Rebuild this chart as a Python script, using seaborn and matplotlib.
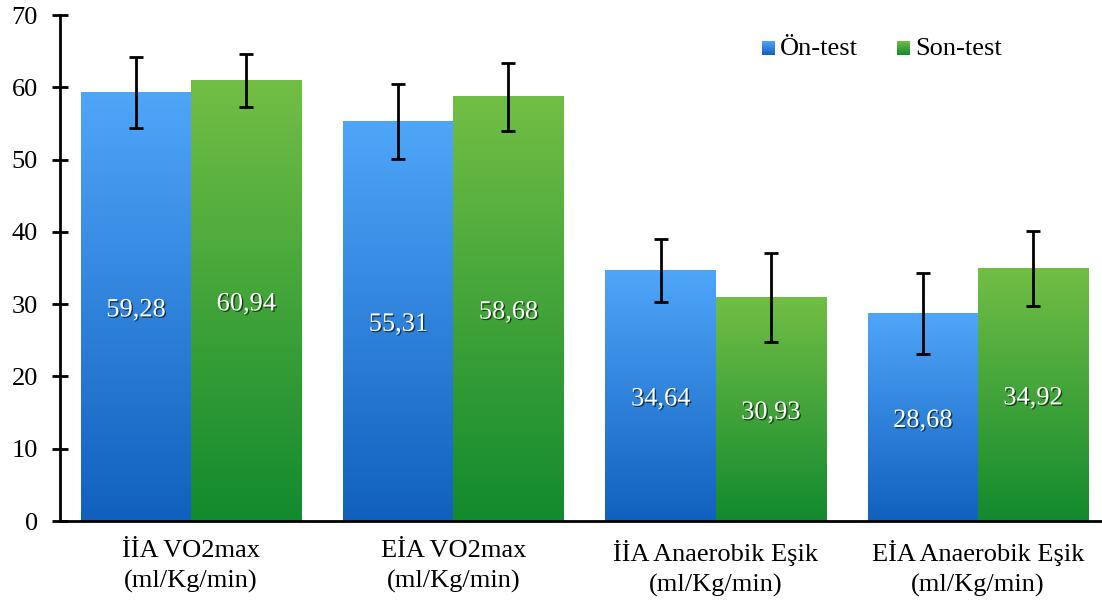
import matplotlib
matplotlib.use("Agg")
import matplotlib.pyplot as plt
import matplotlib.patheffects as pe
from matplotlib.colors import LinearSegmentedColormap
import numpy as np
import pandas as pd
import seaborn as sns

categories = ["İİA VO2max\n(ml/Kg/min)", "EİA VO2max\n(ml/Kg/min)",
              "İİA Anaerobik Eşik\n(ml/Kg/min)", "EİA Anaerobik Eşik\n(ml/Kg/min)"]
groups = ["Ön-test", "Son-test"]
on_test = [59.28, 55.31, 34.64, 28.68]
son_test = [60.94, 58.68, 30.93, 34.92]
on_sd = [4.9, 5.2, 4.4, 5.6]
son_sd = [3.7, 4.7, 6.1, 5.2]
value_labels_on = ["59,28", "55,31", "34,64", "28,68"]
value_labels_son = ["60,94", "58,68", "30,93", "34,92"]

df = pd.DataFrame({
    "cat": categories * 2,
    "val": on_test + son_test,
    "grp": [groups[0]] * 4 + [groups[1]] * 4,
})

sns.set_style("white")
plt.rcParams["font.family"] = ["Liberation Serif", "DejaVu Serif"]
FS = 19

fig = plt.figure(figsize=(11.02, 6.01), dpi=100)
ax = fig.add_axes([60 / 1102, 80 / 601, 1049 / 1102, 506 / 601])

sns.barplot(data=df, x="cat", y="val", hue="grp", errorbar=None,
            width=0.84, gap=0, legend=False, ax=ax,
            palette=["#3d8ee8", "#45a53a"])

cmaps = [
    LinearSegmentedColormap.from_list("b", ["#1160be", "#4fa6f9"]),
    LinearSegmentedColormap.from_list("g", ["#128a2e", "#72be45"]),
]
grad = np.linspace(0, 1, 256).reshape(-1, 1)

sds = [on_sd, son_sd]
labels = [value_labels_on, value_labels_son]
bar_containers = list(ax.containers)
for k, cont in enumerate(bar_containers):
    for i, bar in enumerate(cont):
        x0 = bar.get_x()
        w = bar.get_width()
        h = bar.get_height()
        bar.set_facecolor("none")
        bar.set_edgecolor("none")
        ax.imshow(grad, extent=[x0, x0 + w, 0, h], origin="lower",
                  aspect="auto", cmap=cmaps[k], zorder=1)
        ax.errorbar(x0 + w / 2, h, yerr=sds[k][i], color="black",
                    elinewidth=2, capsize=4.7, capthick=2, zorder=3)
        ax.text(x0 + w / 2, h / 2 - 0.5, labels[k][i], ha="center", va="center",
                color="white", fontsize=FS, zorder=4,
                path_effects=[pe.SimplePatchShadow(offset=(1, -1), shadow_rgbFace="black", alpha=0.6),
                              pe.Normal()])

# legend with gradient squares
def px2data(px, py):
    return (px - 60) / 262.25 - 0.5, (521 - py) / 7.229

for k, (sx, tx) in enumerate([(762, 780), (897, 915)]):
    xa, ya = px2data(sx, 55)
    xb, yb = px2data(sx + 13, 41)
    ax.imshow(grad, extent=[xa, xb, ya, yb], origin="lower",
              aspect="auto", cmap=cmaps[k], zorder=5)
    xt, yt = px2data(tx, 49)
    ax.text(xt, yt, groups[k], ha="left", va="center", fontsize=FS, color="black")

ax.set_xlim(-0.5, 3.5)
ax.set_ylim(0, 70)
ax.set_yticks(range(0, 71, 10))
ax.set_xlabel("")
ax.set_ylabel("")
ax.tick_params(axis="y", which="major", direction="inout", length=12, width=2,
               labelsize=FS, pad=10, left=True, colors="black")
ax.tick_params(axis="x", which="major", length=0, labelsize=FS, pad=14, colors="black")
for t in ax.get_xticklabels():
    t.set_linespacing(1.4)
for s in ["top", "right"]:
    ax.spines[s].set_visible(False)
for s in ["left", "bottom"]:
    ax.spines[s].set_linewidth(2)
    ax.spines[s].set_color("black")
ax.grid(False)

fig.savefig("out.png", dpi=100)
